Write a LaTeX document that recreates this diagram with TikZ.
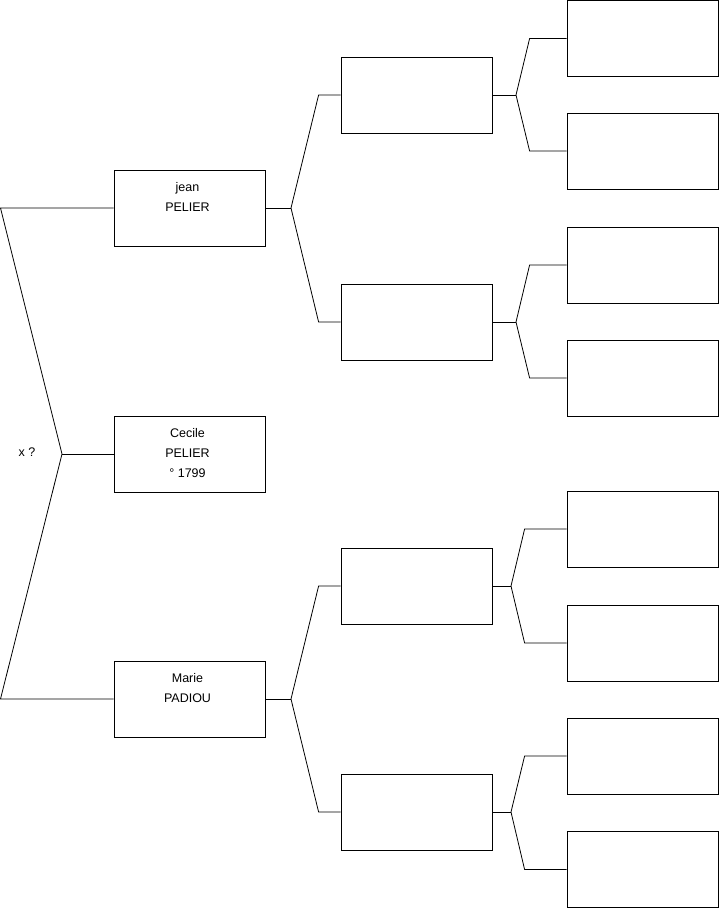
\documentclass[tikz,border=0pt]{standalone}
\usepackage{fontspec}
\setmainfont{Liberation Sans}
\usetikzlibrary{positioning}

\begin{document}
\begin{tikzpicture}[x=1pt,y=-1pt,
    personbox/.style={draw,line width=0.8pt,minimum width=151pt,minimum height=76pt,inner sep=0pt},
    personname/.style={align=center,font=\fontsize{12.5}{20}\selectfont,inner sep=0pt},
    link/.style={line width=0.8pt}]

\useasboundingbox (0,0) rectangle (719,908);

% Generation 1 and 2
\node[personbox] (cecile) at (189.5,454) {};
\node[personbox] (jean) at (189.5,208) {};
\node[personbox] (marie) at (189.5,699) {};

\node[personname] (ceciletxt) at (187.5,453) {Cecile\\PELIER\\° 1799};
\node[personname] (jeantxt) at (187.5,197) {jean\\PELIER};
\node[personname] (marietxt) at (187.5,688) {Marie\\PADIOU};
\node[personname] (unionx) at (27,452) {x ?};

% Generation 3
\node[personbox] (jf) at (416.5,95) {};
\node[personbox] (jm) at (416.5,322) {};
\node[personbox] (mf) at (416.5,586) {};
\node[personbox] (mm) at (416.5,812) {};

% Generation 4
\node[personbox] (jff) at (642.5,38.5) {};
\node[personbox] (jfm) at (642.5,151) {};
\node[personbox] (jmf) at (642.5,265) {};
\node[personbox] (jmm) at (642.5,378) {};
\node[personbox] (mff) at (642.5,529) {};
\node[personbox] (mfm) at (642.5,643) {};
\node[personbox] (mmf) at (642.5,756) {};
\node[personbox] (mmm) at (642.5,869.5) {};

% Forks
\coordinate (rootfork) at (62,454);
\coordinate (roottop) at (0.5,208);
\coordinate (rootbot) at (0.5,699);
\coordinate (jfork) at (291,208);
\coordinate (mfork) at (291,699);
\coordinate (jffork) at (516,95);
\coordinate (jmfork) at (516,322);
\coordinate (mffork) at (511,586);
\coordinate (mmfork) at (511,812);

% Connectors
\draw[link] (jean.west) -- (roottop) -- (rootfork) -- (rootbot) -- (marie.west);
\draw[link] (rootfork) -- (cecile.west);

\draw[link] (jean.east) -- (jfork);
\draw[link] (jfork) -- ([xshift=-22pt]jf.west) -- (jf.west);
\draw[link] (jfork) -- ([xshift=-22pt]jm.west) -- (jm.west);
\draw[link] (marie.east) -- (mfork);
\draw[link] (mfork) -- ([xshift=-22pt]mf.west) -- (mf.west);
\draw[link] (mfork) -- ([xshift=-22pt]mm.west) -- (mm.west);

\draw[link] (jf.east) -- (jffork);
\draw[link] (jffork) -- ([xshift=-37pt]jff.west) -- (jff.west);
\draw[link] (jffork) -- ([xshift=-37pt]jfm.west) -- (jfm.west);
\draw[link] (jm.east) -- (jmfork);
\draw[link] (jmfork) -- ([xshift=-37pt]jmf.west) -- (jmf.west);
\draw[link] (jmfork) -- ([xshift=-37pt]jmm.west) -- (jmm.west);
\draw[link] (mf.east) -- (mffork);
\draw[link] (mffork) -- ([xshift=-42pt]mff.west) -- (mff.west);
\draw[link] (mffork) -- ([xshift=-42pt]mfm.west) -- (mfm.west);
\draw[link] (mm.east) -- (mmfork);
\draw[link] (mmfork) -- ([xshift=-42pt]mmf.west) -- (mmf.west);
\draw[link] (mmfork) -- ([xshift=-42pt]mmm.west) -- (mmm.west);

\end{tikzpicture}
\end{document}
